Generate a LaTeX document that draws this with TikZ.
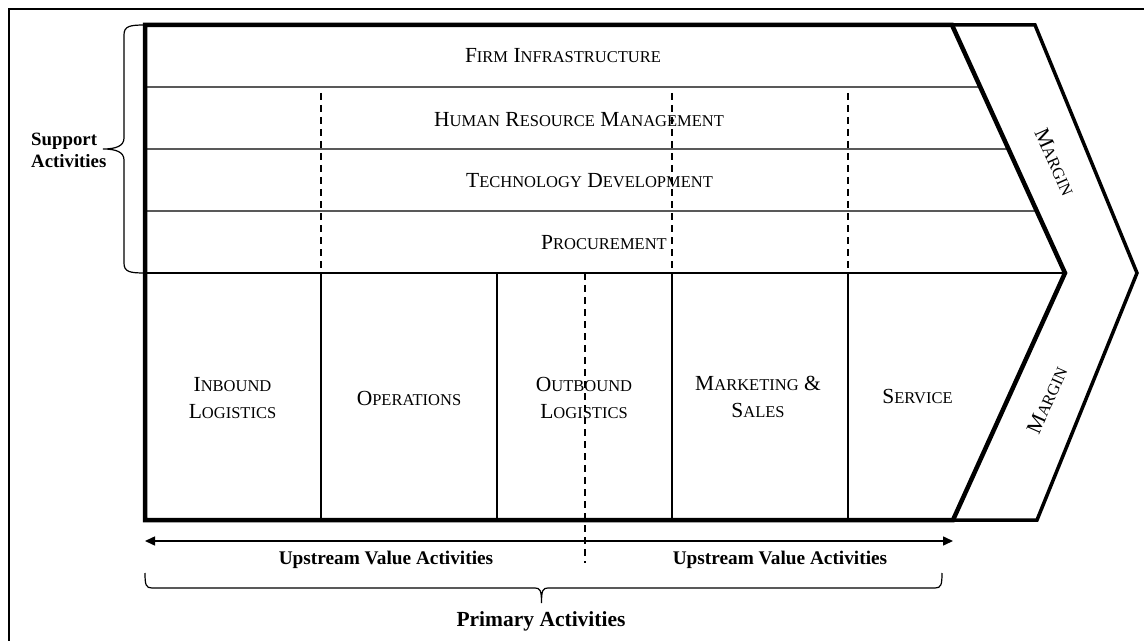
\documentclass[tikz,border=0pt]{standalone}
\usepackage{fontspec}
\setmainfont{Liberation Serif}
\usetikzlibrary{arrows.meta,calc}
% lower-case part of a small-capital word
\newcommand\lowcap[1]{{\fontsize{16.5bp}{20bp}\selectfont #1}}
\begin{document}
\begin{tikzpicture}[x=1bp,y=-1bp,
  heavy/.style={line width=4.5bp, line join=miter},
  rule/.style={line width=1.3bp},
  divider/.style={line width=1.4bp, dash pattern=on 7bp off 5bp},
  activity/.style={font=\fontsize{21.5bp}{27bp}\selectfont, align=center, inner sep=0pt},
  caption/.style={font=\bfseries\fontsize{18.8bp}{22bp}\selectfont, inner sep=0pt},
  flowcaption/.style={caption, font=\bfseries\fontsize{19.3bp}{22bp}\selectfont},
  maincaption/.style={caption, font=\bfseries\fontsize{21.5bp}{24bp}\selectfont},
  tipped/.style={line width=1.5bp, {Triangle[length=10bp,width=9bp]}-{Triangle[length=10bp,width=9bp]}},
  bracket/.style={line width=1.2bp},
]
\useasboundingbox (0,0) rectangle (1144,641);
\draw[line width=1.5bp] (9,641) -- (9,9) -- (1144,9);

% outline of the chain
\coordinate (tl) at (145,25);
\coordinate (tr) at (952,25);
\coordinate (tip) at (1065,273);
\coordinate (br) at (953,520);
\coordinate (bl) at (145,520);
\coordinate (mtr) at (1035,25);
\coordinate (mtip) at (1137,273);
\coordinate (mbr) at (1037,520);

% support rows
\foreach \k/\y in {1/87,2/149,3/211,4/273}{
  \coordinate (rowl\k) at (145,\y);
  \coordinate (rowr\k) at ($(tr)!\k/4!(tip)$);
  \draw[rule] (rowl\k) -- (rowr\k);
}

% primary columns
\foreach \x in {321,497,672,848}{
  \draw[rule] (\x,273) -- (\x,520);
}

% dashed dividers through the support rows
\foreach \x in {321,672,848}{
  \draw[divider] (\x,93) -- (\x,273);
}
\coordinate (split top) at (585,273);
\coordinate (split bottom) at (585,563);
\draw[divider] (split top) -- (split bottom);

% margin band and heavy outline
\draw[line width=3.5bp, line join=miter] (tr) -- (mtr) -- (mtip) -- (mbr) -- (br);
\draw[heavy] (tl) -- (tr) -- (tip) -- (br) -- (bl) -- cycle;

% support activities
\node[activity] (firm) at (563,56) {F\lowcap{IRM} I\lowcap{NFRASTRUCTURE}};
\node[activity] (hrm) at (579,119.5) {H\lowcap{UMAN} R\lowcap{ESOURCE} M\lowcap{ANAGEMENT}};
\node[activity] (tech) at (589.5,180.5) {T\lowcap{ECHNOLOGY} D\lowcap{EVELOPMENT}};
\node[activity] (proc) at (604,242.5) {P\lowcap{ROCUREMENT}};

% primary activities
\node[activity] (inbound) at (232.5,398) {I\lowcap{NBOUND}\\L\lowcap{OGISTICS}};
\node[activity] (ops) at (409,398.5) {O\lowcap{PERATIONS}};
\node[activity] (outbound) at (584,398) {O\lowcap{UTBOUND}\\L\lowcap{OGISTICS}};
\node[activity] (mkt) at (758,397) {M\lowcap{ARKETING} \&\\S\lowcap{ALES}};
\node[activity] (service) at (917.5,397) {S\lowcap{ERVICE}};

% margin labels
\node[activity, rotate=-66] (margin top) at (1055,162) {M\lowcap{ARGIN}};
\node[activity, rotate=66] (margin bottom) at (1047,400) {M\lowcap{ARGIN}};

% value flow arrow
\coordinate (flow left) at (145,541);
\coordinate (flow right) at (953,541);
\draw[tipped] (flow left) -- (flow right);
\node[flowcaption, anchor=base] (up left) at (386,564) {Upstream Value Activities};
\node[flowcaption, anchor=base] (up right) at (780,564) {Upstream Value Activities};

% brace for support activities
\draw[bracket] (145,25) .. controls (130,25) and (124,26) .. (124,35) -- (124,138)
  .. controls (124,146) and (116,149) .. (103,149)
  .. controls (116,149) and (124,152) .. (124,160) -- (124,263)
  .. controls (124,272) and (130,273) .. (145,273);
\node[caption, align=left, anchor=north west] (support) at (31,133) {Support\\Activities};

% brace for primary activities
\draw[bracket] (145,573) .. controls (145,585) and (146,588) .. (152,588) -- (535,588)
  .. controls (540,588) and (541.5,590) .. (541.5,603)
  .. controls (541.5,590) and (543,588) .. (548,588) -- (935,588)
  .. controls (941,588) and (942,585) .. (942,573);
\node[maincaption, anchor=base] (primary) at (541,626.5) {Primary Activities};
\end{tikzpicture}
\end{document}
